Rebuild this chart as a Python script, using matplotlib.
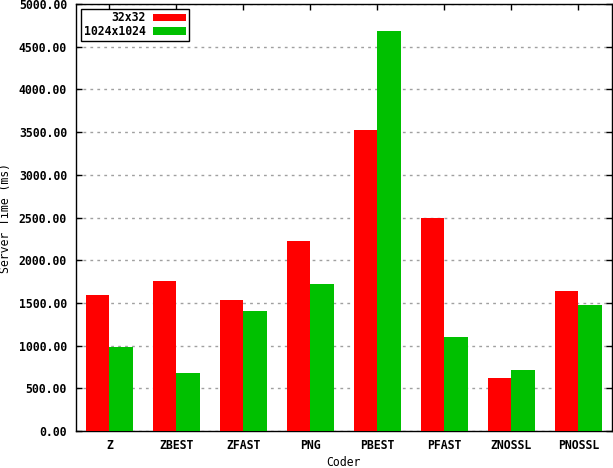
import matplotlib
matplotlib.use("Agg")
import matplotlib.pyplot as plt
import numpy as np

coders = ['Z', 'ZBEST', 'ZFAST', 'PNG', 'PBEST', 'PFAST', 'ZNOSSL', 'PNOSSL']
small = [1592, 1756, 1534, 2225, 3525, 2494, 621, 1639]
large = [987, 679, 1405, 1721, 4684, 1101, 714, 1475]
series_names = ['32x32', '1024x1024']

plt.rcParams['font.family'] = 'DejaVu Sans Mono'
plt.rcParams['font.weight'] = 'bold'
plt.rcParams['font.size'] = 8.3

fig = plt.figure(figsize=(6.13, 4.68), dpi=100)
ax = fig.add_axes([0.124, 0.079, 0.874, 0.9125])

x = np.arange(len(coders))
w = 0.35
ax.bar(x, small, width=-w, align='edge', color='#ff0000', label=series_names[0], zorder=3)
ax.bar(x, large, width=w, align='edge', color='#00c000', label=series_names[1], zorder=3)

ax.set_xlim(-0.5, len(coders) - 0.5)
ax.set_ylim(0, 5000)
ax.set_yticks(np.arange(0, 5001, 500))
ax.set_yticklabels(['%.2f' % v for v in np.arange(0, 5001, 500)])
ax.set_xticks(x)
ax.set_xticklabels(coders)
ax.tick_params(direction='in', length=4, width=1, top=True, right=True, pad=6.5)
ax.tick_params(axis='x', pad=6)

ax.yaxis.grid(True, color='#a0a0a0', linestyle=(0, (2, 3)), linewidth=1, zorder=0)
for s in ax.spines.values():
    s.set_linewidth(1)

ax.set_xlabel('Coder', labelpad=2.5)
ax.set_ylabel('Server Time (ms)', labelpad=5)

leg = ax.legend(loc='upper left', markerfirst=False, frameon=True, fancybox=False,
                edgecolor='black', framealpha=1, handlelength=2.8, handleheight=0.6,
                borderaxespad=0.4, borderpad=0.25, labelspacing=0.05, handletextpad=0.7)
leg.get_frame().set_linewidth(1)

fig.savefig('out.png', dpi=100)
